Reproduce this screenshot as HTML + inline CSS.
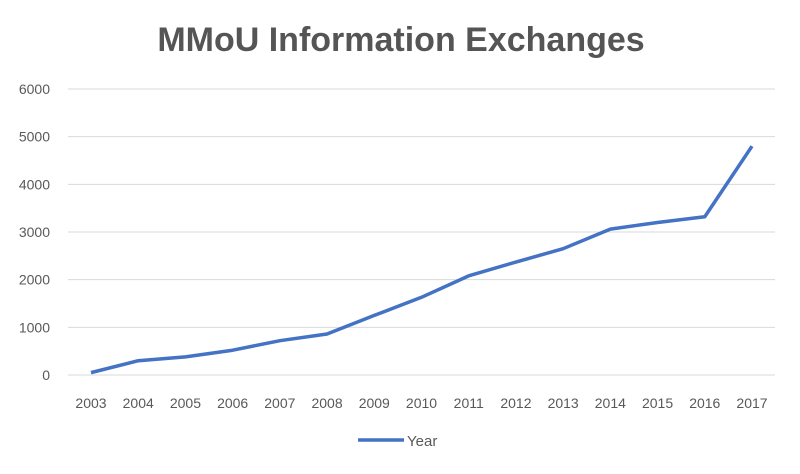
<!DOCTYPE html>
<html><head><meta charset="utf-8"><style>
html,body{margin:0;padding:0;background:#fff;}
svg{display:block;font-family:"Liberation Sans",sans-serif;}
</style></head><body>
<svg id="chart" width="800" height="474" viewBox="0 0 800 474">
<text x="401" y="51" text-anchor="middle" font-size="34" font-weight="bold" fill="#555">MMoU Information Exchanges</text>
<g id="grid"></g>
<g id="yt"></g>
<g id="xt"></g>
<path id="line" fill="none" stroke="#4472c4" stroke-width="3.5" stroke-linejoin="round"/>
<g>
<line x1="358" y1="440" x2="404" y2="440" stroke="#4472c4" stroke-width="3.5"/>
<text x="407" y="446" font-size="15" fill="#595959">Year</text>
</g>
</svg>
<script>
const categories=["2003","2004","2005","2006","2007","2008","2009","2010","2011","2012","2013","2014","2015","2016","2017"];
const values=[50,300,380,520,720,860,1250,1630,2080,2370,2650,3060,3200,3320,4800];
const yTicks=[0,1000,2000,3000,4000,5000,6000];
const NS="http://www.w3.org/2000/svg";
const x0=91,x1=752,yBase=375,yTop=89,yMax=6000;
function xs(i){return x0+i*(x1-x0)/(categories.length-1);}
function ys(v){return yBase-(v/yMax)*(yBase-yTop);}
const grid=document.getElementById('grid'),yt=document.getElementById('yt'),xt=document.getElementById('xt');
yTicks.forEach(t=>{
 const l=document.createElementNS(NS,'line');
 
 
 l.setAttribute('x1',68);l.setAttribute('x2',775);l.setAttribute('y1',ys(t));l.setAttribute('y2',ys(t));
 l.setAttribute('stroke','#d9d9d9');l.setAttribute('stroke-width','1');
 grid.appendChild(l);
 const tx=document.createElementNS(NS,'text');
 
 
 tx.setAttribute('x',50);tx.setAttribute('y',ys(t)+5);tx.setAttribute('text-anchor','end');
 tx.setAttribute('font-size','14');tx.setAttribute('fill','#595959');tx.textContent=t;
 yt.appendChild(tx);
});
categories.forEach((c,i)=>{
 const tx=document.createElementNS(NS,'text');
 
 
 tx.setAttribute('x',xs(i));tx.setAttribute('y',408);tx.setAttribute('text-anchor','middle');
 tx.setAttribute('font-size','14');tx.setAttribute('fill','#595959');tx.textContent=c;
 xt.appendChild(tx);
});
document.getElementById('line').setAttribute('d',values.map((v,i)=>(i?'L':'M')+xs(i)+','+ys(v)).join(' '));
</script>
</body></html>
